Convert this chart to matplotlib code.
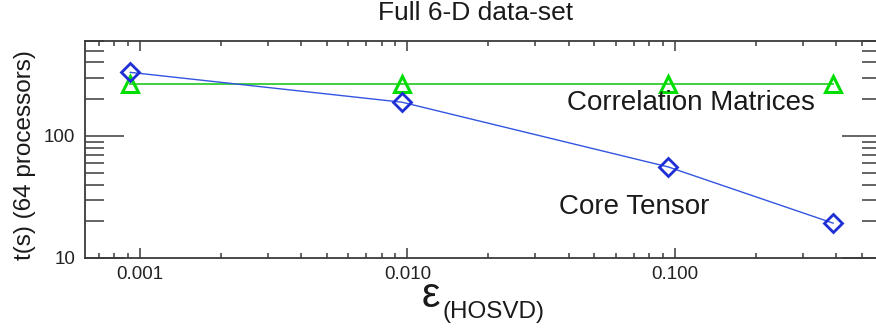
import numpy as np
import matplotlib
matplotlib.use('Agg')
import matplotlib.pyplot as plt
from matplotlib.ticker import LogLocator, FixedLocator, FixedFormatter, NullFormatter

plt.rcParams['font.family'] = ['Liberation Sans', 'DejaVu Sans']

# HOSVD tolerance vs. run time on 64 processors
eps = [0.00092, 0.00954, 0.0942, 0.39]
t_core = [332, 189, 55.8, 19.3]
t_corr = [267, 267, 267, 267]

x_ticks = [0.001, 0.010, 0.100]
x_ticklabels = ['0.001', '0.010', '0.100']
y_ticks = [10, 100]
y_ticklabels = ['10', '100']

W, H = 876, 333
fig = plt.figure(figsize=(W / 100, H / 100), dpi=100)
ax = fig.add_axes([85 / W, 1 - 258 / H, (881 - 85) / W, (258 - 41) / H])

ax.plot(eps, t_corr, color='#33cc33', lw=1.3, zorder=2)
ax.plot(eps, t_corr, ls='none', marker='^', ms=11, mfc='none',
        mec='#00dd00', mew=2.2, zorder=3)
ax.plot(eps, t_core, color='#3355e0', lw=1.0, zorder=2)
ax.plot(eps, t_core, ls='none', marker='D', ms=9.5, mfc='none',
        mec='#1f2fd6', mew=2.0, zorder=3)

ax.set_xscale('log')
ax.set_yscale('log')
ax.set_xlim(10 ** -3.2056, 10 ** -0.2299)
ax.set_ylim(10, 600)

ax.xaxis.set_major_locator(FixedLocator(x_ticks))
ax.xaxis.set_major_formatter(FixedFormatter(x_ticklabels))
ax.xaxis.set_minor_locator(LogLocator(base=10, subs=np.arange(2, 10)))
ax.xaxis.set_minor_formatter(NullFormatter())
ax.yaxis.set_major_locator(FixedLocator(y_ticks))
ax.yaxis.set_major_formatter(FixedFormatter(y_ticklabels))
ax.yaxis.set_minor_locator(LogLocator(base=10, subs=np.arange(2, 10)))
ax.yaxis.set_minor_formatter(NullFormatter())

frame = '#3a3a3a'
for s in ax.spines.values():
    s.set_color(frame)
    s.set_linewidth(1.3)
ax.tick_params(which='both', direction='in', top=True, right=True,
               color=frame, width=1.1, labelsize=13.5, labelcolor='#222222')
ax.tick_params(axis='x', which='major', length=7.5, pad=6)
ax.tick_params(axis='x', which='minor', length=3.8)
ax.tick_params(axis='y', which='major', length=28, pad=7)
ax.tick_params(axis='y', which='minor', length=13.5)

ax.text(0.0396, 185, 'Correlation Matrices', fontsize=20, va='center',
        color='#1a1a1a')
ax.text(0.0367, 26.1, 'Core Tensor', fontsize=20, va='center',
        color='#1a1a1a')

fig.text(476 / W, 1 - 20 / H, 'Full 6-D data-set', fontsize=19,
         ha='center', va='baseline', color='#1a1a1a')
fig.text(25 / W, 1 - 155 / H, 't(s) (64 processors)', fontsize=17.5,
         rotation=90, ha='center', va='center', color='#1a1a1a')
fig.text(422 / W, 1 - 307 / H, '\u03b5', fontsize=30, ha='left',
         va='baseline', color='#1a1a1a')
fig.text(443 / W, 1 - 318 / H, '(HOSVD)', fontsize=17.5, ha='left',
         va='baseline', color='#1a1a1a')

fig.savefig('out.png', dpi=100)
